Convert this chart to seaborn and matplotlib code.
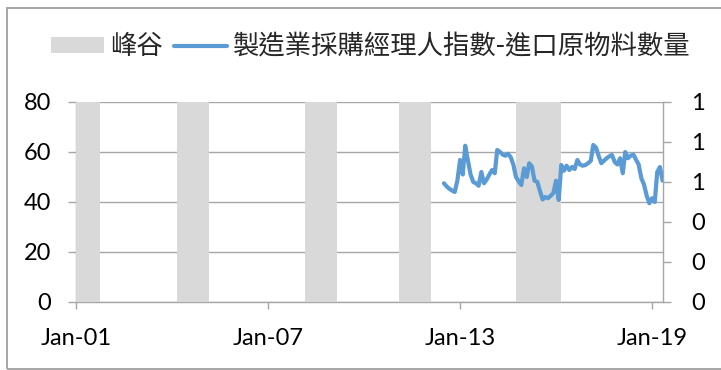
import numpy as np
import pandas as pd
import matplotlib
matplotlib.use("Agg")
import matplotlib.pyplot as plt
import matplotlib.dates as mdates
from matplotlib.ticker import FixedLocator, FormatStrFormatter
from matplotlib.patches import Rectangle
import seaborn as sns

# Business-cycle contraction periods (peak month -> trough month, inclusive)
cycle_start = ["2001-01", "2004-03", "2008-03", "2011-02", "2014-10"]
cycle_end = ["2001-09", "2005-02", "2009-02", "2012-01", "2016-02"]
cycle_flag = [1, 1, 1, 1, 1]

# Manufacturing PMI - imports of raw materials (monthly, from Jul 2012)
pmi_start = "2012-07"
pmi_values = [
    47.5, 46.2, 45.3, 44.6, 44.0, 48.5, 56.8, 51.0, 62.5, 56.5,
    51.0, 48.0, 47.5, 46.5, 52.0, 47.5, 49.0, 51.0, 52.8, 51.5,
    60.8, 60.1, 59.0, 58.5, 59.3, 58.0, 55.0, 50.0, 48.3, 46.8,
    53.5, 50.0, 55.5, 54.2, 48.5, 48.1, 44.5, 41.0, 42.0, 41.5,
    42.5, 43.5, 48.5, 40.8, 54.8, 52.5, 54.5, 52.8, 54.0, 53.2,
    56.8, 55.0, 54.5, 54.8, 55.5, 56.5, 62.8, 61.8, 58.5, 55.5,
    56.5, 57.5, 58.3, 58.8, 56.0, 55.0, 57.5, 51.5, 60.0, 57.5,
    58.5, 59.0, 57.0, 55.0, 49.5, 47.0, 42.5, 39.5, 41.5, 40.0,
    52.0, 54.0, 48.5,
]

series_names = ["峰谷", "製造業採購經理人指數-進口原物料數量"]
x_tick_dates = ["2001-01-01", "2007-01-01", "2013-01-01", "2019-01-01"]
x_tick_labels = ["Jan-01", "Jan-07", "Jan-13", "Jan-19"]
left_ticks = [0, 20, 40, 60, 80]
right_ticks = [0, 0.2, 0.4, 0.6, 0.8, 1.0]
x_range = ["2001-01-01", "2019-05-06"]

pmi = pd.DataFrame({
    "date": pd.date_range(pmi_start, periods=len(pmi_values), freq="MS"),
    "value": pmi_values,
})

sns.set_theme(style="white")
plt.rcParams["font.family"] = ["Lato", "Noto Sans CJK TC", "DejaVu Sans"]

GRID = "#A6A6A6"
BAR = "#D9D9D9"
LINE = "#5B9BD5"

fig = plt.figure(figsize=(7.21, 3.70), dpi=100)
rect = [76 / 721, 1 - 302 / 370, (663 - 76) / 721, 200 / 370]

# left axis: gridlines and value scale
ax = fig.add_axes(rect)
# right axis: contraction flags
ax2 = ax.twinx()
# overlay sharing the left scale, so the line sits above the shading
ax3 = fig.add_axes(rect, sharex=ax, sharey=ax)
ax3.patch.set_visible(False)

starts = mdates.date2num(pd.to_datetime(cycle_start))
ends = mdates.date2num(pd.to_datetime(cycle_end) + pd.offsets.MonthBegin(1))
ax2.bar(starts, cycle_flag, width=ends - starts, align="edge",
        color=BAR, linewidth=0, label=series_names[0], zorder=2)

sns.lineplot(data=pmi, x="date", y="value", ax=ax3, color=LINE,
             linewidth=3.0, label=series_names[1], legend=False)

xmin, xmax = mdates.date2num(pd.to_datetime(x_range))
ax.set_xlim(xmin, xmax)
ax.set_ylim(0, 80)
ax2.set_ylim(0, 1)

ax.yaxis.set_major_locator(FixedLocator(left_ticks))
ax.grid(axis="y", color=GRID, linewidth=1.0)
ax.grid(axis="x", visible=False)
ax.xaxis.set_major_locator(FixedLocator(mdates.date2num(pd.to_datetime(x_tick_dates))))
ax.set_xticklabels(x_tick_labels)
ax2.yaxis.set_major_locator(FixedLocator(right_ticks))
ax2.yaxis.set_major_formatter(FormatStrFormatter("%.0f"))

for a in (ax, ax2):
    a.spines["top"].set_visible(False)
    for s in a.spines.values():
        s.set_color(GRID)
        s.set_linewidth(1.0)
ax.spines["right"].set_visible(False)
ax2.spines["left"].set_visible(False)
ax2.spines["bottom"].set_visible(False)

ax.tick_params(axis="y", which="major", direction="out", length=6, width=1,
               color=GRID, labelsize=17, labelcolor="black", pad=12, left=True)
ax.tick_params(axis="x", which="major", direction="out", length=5, width=1,
               color=GRID, labelsize=17, labelcolor="black", pad=14, bottom=True)
ax2.tick_params(axis="y", which="major", direction="out", length=6, width=1,
                color=GRID, labelsize=17, labelcolor="black", pad=14, right=True)

ax3.axis("off")
for a in (ax, ax2, ax3):
    a.set_xlabel("")
    a.set_ylabel("")

handles = [ax2.patches[0], ax3.get_lines()[0]]
leg = fig.legend(handles, series_names, loc="center", ncol=2,
                 bbox_to_anchor=(371 / 721, 1 - 47 / 370), frameon=False,
                 prop={"family": ["Noto Sans CJK TC", "DejaVu Sans"], "size": 19},
                 handlelength=2.0, handleheight=0.55, handletextpad=0.25,
                 columnspacing=0.4, borderaxespad=0, borderpad=0)

# chart frame
fig.patches.append(Rectangle((7 / 721, 1.5 / 370), 1.2, 361 / 370,
                             transform=fig.transFigure, fill=False,
                             edgecolor=GRID, linewidth=1.4, clip_on=False))

fig.savefig("out.png", dpi=100)
